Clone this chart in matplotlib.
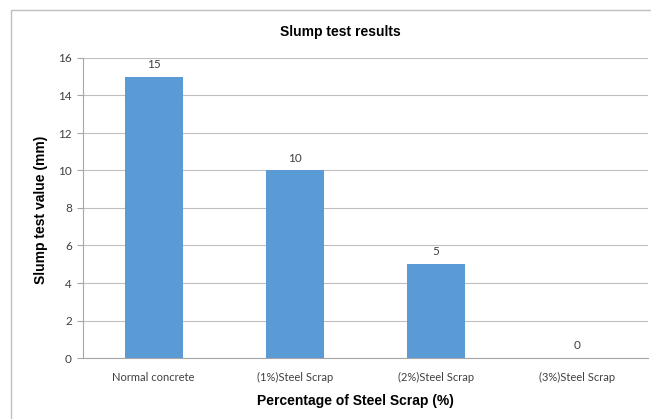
import matplotlib.pyplot as plt
from matplotlib.lines import Line2D

categories = ["Normal concrete", "(1%)Steel Scrap", "(2%)Steel Scrap", "(3%)Steel Scrap"]
slump_mm = [15, 10, 5, 0]
y_ticks = [0, 2, 4, 6, 8, 10, 12, 14, 16]

plt.rcParams['font.family'] = ['Lato', 'DejaVu Sans']

fig = plt.figure(figsize=(6.51, 4.19), dpi=100)
ax = fig.add_axes([83 / 651, 1 - 358 / 419, 565 / 651, 300 / 419])

# chart-area border: only left and top edges fall inside the picture
bx, by = 11 / 651, 1 - 10 / 419
fig.lines.append(Line2D([bx, bx, 1.0], [0, by, by], transform=fig.transFigure,
                        color="#BFBFBF", linewidth=1.0))

x = list(range(len(categories)))
ax.bar(x, slump_mm, width=0.41, color="#5B9BD5", zorder=3)

for xi, v in zip(x, slump_mm):
    ax.annotate(str(v), (xi, v), xytext=(0, 5), textcoords="offset points",
                ha="center", va="bottom", fontsize=8.5, color="#404040")

ax.set_xlim(-0.5, len(categories) - 0.5)
ax.set_ylim(0, 16)
ax.set_yticks(y_ticks)
ax.set_xticks(x)
ax.set_xticklabels(categories)
ax.tick_params(axis="x", length=0, labelsize=8, labelcolor="#404040", pad=10)
ax.tick_params(axis="y", length=4, color="#A6A6A6", labelsize=8.5,
               labelcolor="#404040", pad=4)
ax.yaxis.grid(True, color="#BFBFBF", linewidth=0.8, zorder=0)

for side in ["top", "right"]:
    ax.spines[side].set_visible(False)
for side in ["left", "bottom"]:
    ax.spines[side].set_color("#A6A6A6")
    ax.spines[side].set_linewidth(0.8)

fig.text(340 / 651, 1 - 32 / 419, "Slump test results", fontsize=10,
         fontweight="bold", family="Liberation Sans", ha="center", va="center")
fig.text(355 / 651, 1 - 401 / 419, "Percentage of Steel Scrap (%)", fontsize=10,
         fontweight="bold", family="Liberation Sans", ha="center", va="center")
fig.text(41 / 651, 1 - 210 / 419, "Slump test value (mm)", fontsize=10,
         fontweight="bold", family="Liberation Sans", ha="center", va="center",
         rotation=90)

fig.savefig("out.png", dpi=100)
